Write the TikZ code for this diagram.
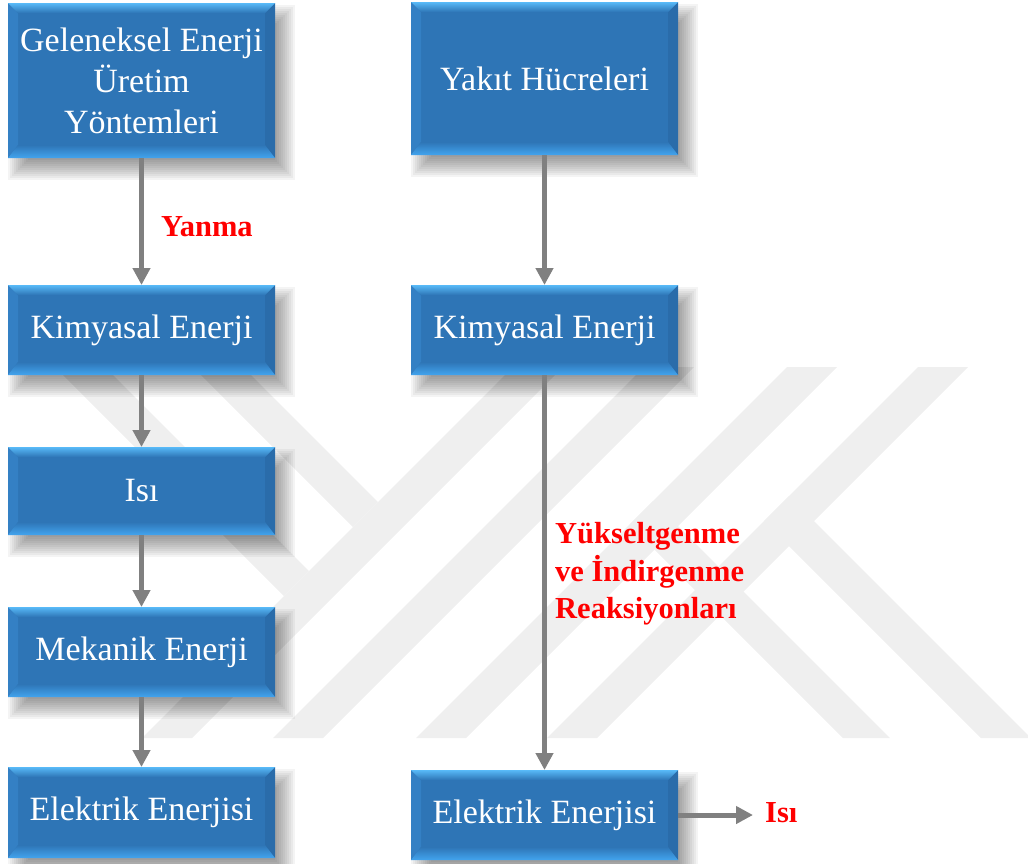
\documentclass[tikz,border=0pt]{standalone}
\usepackage{fontspec}
\setmainfont{Liberation Serif}
\usetikzlibrary{arrows.meta}
\definecolor{boxblue}{RGB}{46,117,182}
\definecolor{bevtop}{RGB}{88,186,248}
\definecolor{bevbot}{RGB}{66,164,238}
\definecolor{bevleft}{RGB}{52,128,196}
\definecolor{bevright}{RGB}{42,108,170}
\definecolor{arrowgray}{RGB}{128,128,128}
\definecolor{wmgray}{RGB}{239,239,239}
\definecolor{labelred}{RGB}{255,0,0}
\pgfdeclarelayer{wm}
\pgfdeclarelayer{sh}
\pgfsetlayers{wm,sh,main}
\tikzset{
  bbox/.style={minimum width=267pt, inner sep=0pt, outer sep=0pt, fill=boxblue,
    text=white, align=center, font=\fontsize{34}{41}\selectfont,
    path picture={
      \path (path picture bounding box.north west) coordinate (pNW)
            (path picture bounding box.north east) coordinate (pNE)
            (path picture bounding box.south west) coordinate (pSW)
            (path picture bounding box.south east) coordinate (pSE);
      \path ([xshift=10pt,yshift=-10pt]pNW) coordinate (iNW)
            ([xshift=-10pt,yshift=-10pt]pNE) coordinate (iNE)
            ([xshift=10pt,yshift=13pt]pSW) coordinate (iSW)
            ([xshift=-10pt,yshift=13pt]pSE) coordinate (iSE);
      \fill[bevleft] (pNW) -- (iNW) -- (iSW) -- (pSW) -- cycle;
      \fill[bevright] (pNE) -- (iNE) -- (iSE) -- (pSE) -- cycle;
      \shade[top color=bevtop, bottom color=boxblue] (pNW) -- (pNE) -- (iNE) -- (iNW) -- cycle;
      \shade[top color=boxblue, bottom color=bevbot] (pSW) -- (pSE) -- (iSE) -- (iSW) -- cycle;
    }},
  arr/.style={draw=arrowgray, line width=5pt, -{Triangle[width=17pt,length=17pt]}},
  redlabel/.style={text=labelred, font=\fontsize{30.5}{37.5}\selectfont\bfseries, inner sep=0pt, align=left},
  wmband/.style={fill=wmgray, draw=none}
}
\begin{document}
\begin{tikzpicture}[x=1pt,y=-1pt]
\useasboundingbox (0,0) rectangle (1028,863);

% watermark
\begin{pgfonlayer}{wm}
\fill[wmband] (513,367) -- (563,367) -- (192,738) -- (142,738) -- cycle;
\fill[wmband] (644,367) -- (694,367) -- (323,738) -- (273,738) -- cycle;
\fill[wmband] (787,367) -- (837,367) -- (466,738) -- (416,738) -- cycle;
\fill[wmband] (918,367) -- (968,367) -- (597,738) -- (547,738) -- cycle;
\fill[wmband] (55,367) -- (105,367) -- (309,571) -- (284,596) -- cycle;
\fill[wmband] (193,367) -- (243,367) -- (378,502) -- (353,527) -- cycle;
\fill[wmband] (789,496) -- (1031,738) -- (981,738) -- (764,521) -- cycle;
\fill[wmband] (653,501) -- (890,738) -- (843,738) -- (629.5,524.5) -- cycle;
\end{pgfonlayer}

% boxes
\node[bbox, minimum height=155pt] (L1) at (141.5,80.5) {Geleneksel Enerji\\Üretim\\Yöntemleri};
\node[bbox, minimum height=90pt] (L2) at (141.5,330) {Kimyasal Enerji};
\node[bbox, minimum height=88pt] (L3) at (141.5,491) {Isı};
\node[bbox, minimum height=90pt] (L4) at (141.5,652) {Mekanik Enerji};
\node[bbox, minimum height=91pt] (L5) at (141.5,812.5) {Elektrik Enerjisi};
\node[bbox, minimum height=153pt] (R1) at (544.5,78.5) {Yakıt Hücreleri};
\node[bbox, minimum height=90pt] (R2) at (544.5,330) {Kimyasal Enerji};
\node[bbox, minimum height=90pt] (R5) at (544.5,815) {Elektrik Enerjisi};

% shadows
\begin{pgfonlayer}{sh}
\foreach \n in {L1,L2,L3,L4,L5,R1,R2,R5}{
  \foreach \e in {10,8,...,-10}{
    \fill[black, opacity=0.045]
      ([xshift={10pt-(\e)*1pt}, yshift={-12pt+(\e)*1pt}]\n.north west)
      rectangle ([xshift={10pt+(\e)*1pt}, yshift={-12pt-(\e)*1pt}]\n.south east);
  }
}
\end{pgfonlayer}

% connectors
\draw[arr] (L1) -- (L2);
\draw[arr] (L2) -- (L3);
\draw[arr] (L3) -- (L4);
\draw[arr] (L4) -- (L5);
\draw[arr] (R1) -- (R2);
\draw[arr] (R2) -- (R5);
\coordinate (isiend) at (753,815);
\draw[arr] (R5) -- (isiend);

% labels
\node[redlabel, anchor=west] (yanma) at (161,227) {Yanma};
\node[redlabel, anchor=west] (redox) at (555,574) {Yükseltgenme\\ve İndirgenme\\Reaksiyonları};
\node[redlabel, anchor=west] (isi) at (765,813) {Isı};
\end{tikzpicture}
\end{document}
